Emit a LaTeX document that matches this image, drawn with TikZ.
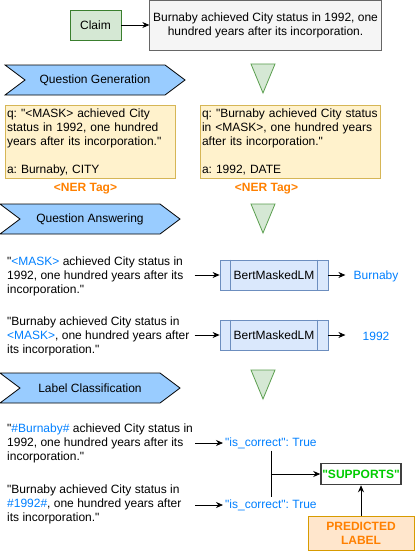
\documentclass[tikz,border=0pt]{standalone}
\usepackage{fontspec}
\setmainfont{Liberation Sans}[Ligatures=TeXOff]
\usetikzlibrary{arrows.meta}
\definecolor{claimfill}{HTML}{D5E8D4}
\definecolor{claimline}{HTML}{3A7F2E}
\definecolor{trifill}{HTML}{D5E8D4}
\definecolor{triline}{HTML}{5A9E4E}
\definecolor{sentfill}{HTML}{F5F5F5}
\definecolor{sentline}{HTML}{666666}
\definecolor{stageblue}{HTML}{99CCFF}
\definecolor{qfill}{HTML}{FFF2CC}
\definecolor{qline}{HTML}{D6B656}
\definecolor{bertfill}{HTML}{DAE8FC}
\definecolor{bertline}{HTML}{6C8EBF}
\definecolor{maskblue}{HTML}{007FFF}
\definecolor{nerorange}{HTML}{FF8000}
\definecolor{supgreen}{HTML}{00CC00}
\definecolor{predfill}{HTML}{FFE6CC}
\definecolor{predline}{HTML}{D79B00}
\frenchspacing
\tikzset{
  every node/.style={font=\fontsize{12}{14}\selectfont},
  arr/.style={-{Stealth[length=7pt,width=6pt]}, line width=0.8pt},
  stagebox/.style={draw=black, fill=stageblue, line width=0.8pt},
  tri/.style={draw=triline, fill=trifill, line width=0.8pt},
  qbox/.style={draw=qline, fill=qfill, line width=0.8pt, minimum height=70pt,
    inner xsep=2pt, inner ysep=3pt, align=left},
  srctext/.style={anchor=west, inner sep=0pt, align=left},
  bertbox/.style={draw=bertline, fill=bertfill, line width=0.8pt,
    minimum width=108pt, minimum height=30pt},
  bluetext/.style={text=maskblue},
}
\begin{document}
\begin{tikzpicture}[x=1pt,y=-1pt]
  \useasboundingbox (0,0) rectangle (415,551);
  \node[draw=claimline, fill=claimfill, line width=0.8pt,
    minimum width=51pt, minimum height=30pt] (claim) at (95.5,25) {Claim};
  \node[draw=sentline, fill=sentfill, line width=0.8pt, align=center,
    minimum width=230pt, minimum height=50pt] (sent) at (265.5,25)
    {Burnaby achieved City status in 1992, one\\hundred years after its incorporation.};
  \draw[arr] (claim) -- (sent);
  % stages
  \foreach \x/\y/\t/\n in {5/80/Question Generation/qg,
      0/219/Question Answering/qa, 0/388/Label Classification/lc} {
    \draw[stagebox] (\x,\y-15) -- ++(160,0) -- ++(20,15) -- ++(-20,15)
      -- ++(-160,0) -- ++(20,-15) -- cycle;
    \node (\n) at (\x+90,\y) {\t};
  }
  \foreach \y in {64,204,370}
    \draw[tri] (251,\y) -- (275,\y) -- (263,\y+29) -- cycle;
  % question generation
  \node[qbox, text width=166pt, minimum width=170pt] (q1) at (90,142)
    {q: "<MASK> achieved City\\status in 1992, one hundred\\years after its incorporation."\\[14pt]a: Burnaby, CITY};
  \node[qbox, text width=176pt, minimum width=180pt] (q2) at (290,142)
    {q: "Burnaby achieved City status\\in <MASK>, one hundred years\\after its incorporation."\\[14pt]a: 1992, DATE};
  \node[text=nerorange, font=\fontsize{12}{14}\selectfont\bfseries] (ner1) at (85.5,189) {<NER Tag>};
  \node[text=nerorange, font=\fontsize{12}{14}\selectfont\bfseries] (ner2) at (266.5,189) {<NER Tag>};
  % question answering
  \node[srctext] (qa1) at (7,276)
    {"\textcolor{maskblue}{<MASK>} achieved City status in\\1992, one hundred years after its\\incorporation."};
  \node[srctext] (qa2) at (7,336)
    {"Burnaby achieved City status in\\\textcolor{maskblue}{<MASK>}, one hundred years after\\its incorporation."};
  \node[bertbox] (bert1) at (274,275) {BertMaskedLM};
  \node[bertbox] (bert2) at (274,335) {BertMaskedLM};
  \foreach \b in {bert1,bert2} {
    \draw[draw=bertline, line width=0.8pt] ([xshift=11pt]\b.north west) -- ([xshift=11pt]\b.south west);
    \draw[draw=bertline, line width=0.8pt] ([xshift=-11pt]\b.north east) -- ([xshift=-11pt]\b.south east);
  }
  \node[bluetext] (out1) at (376,276) {Burnaby};
  \node[bluetext] (out2) at (376,336) {1992};
  \draw[arr] ([xshift=-25pt]bert1.west) -- (bert1.west);
  \draw[arr] ([xshift=-25pt]bert2.west) -- (bert2.west);
  \draw[arr] (bert1.east) -- ++(17,0);
  \draw[arr] (bert2.east) -- ++(17,0);
  % label classification
  \node[srctext] (lc1) at (7,443)
    {"\textcolor{maskblue}{\#Burnaby\#} achieved City status in\\1992, one hundred years after its\\incorporation."};
  \node[srctext] (lc2) at (7,504)
    {"Burnaby achieved City status in\\\textcolor{maskblue}{\#1992\#}, one hundred years after\\its incorporation."};
  \node[bluetext, anchor=west, inner sep=2pt] (corr1) at (223,443) {"is\_correct": True};
  \node[bluetext, anchor=west, inner sep=2pt] (corr2) at (223,505) {"is\_correct": True};
  \draw[arr] ([xshift=-28pt]corr1.west) -- (corr1.west);
  \draw[arr] ([xshift=-28pt]corr2.west) -- (corr2.west);
  \node[draw=black!75, line width=1.5pt, minimum width=80pt, minimum height=21pt,
    inner sep=0pt, text=supgreen, font=\fontsize{12}{14}\selectfont\bfseries] (sup) at (361,474) {"SUPPORTS"};
  \node[draw=predline, fill=predfill, line width=0.8pt, minimum width=106pt,
    minimum height=34pt, align=center, text=nerorange,
    font=\fontsize{12}{14}\selectfont\bfseries] (pred) at (361,533) {PREDICTED\\LABEL};
  \draw[line width=0.8pt] (corr1.south) -- (corr2.north);
  \draw[arr] (corr1.south |- sup.west) -- (sup.west);
  \draw[arr] (pred.north) -- (sup.south);
\end{tikzpicture}
\end{document}
